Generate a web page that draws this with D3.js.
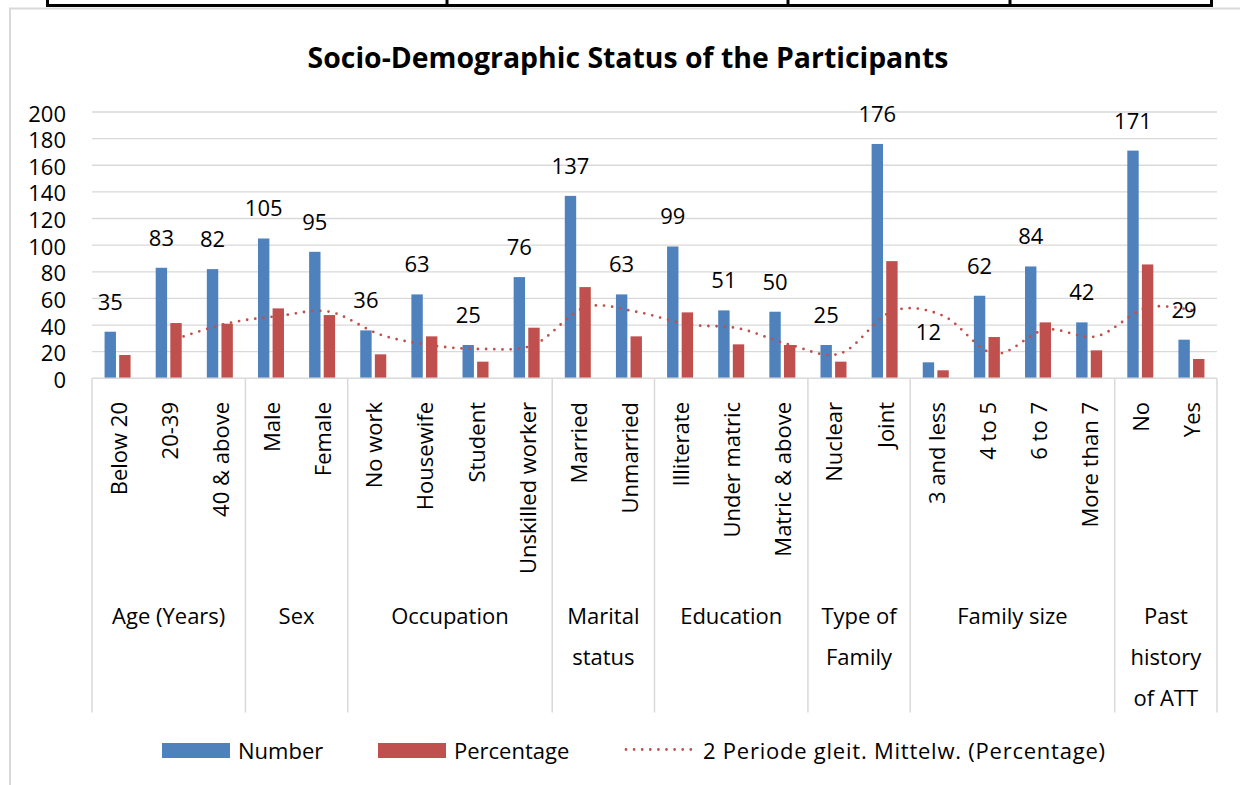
<!DOCTYPE html>
<html>
<head>
<meta charset="utf-8">
<script src="https://cdn.jsdelivr.net/npm/d3@7"></script>
<style>
  html, body { margin: 0; padding: 0; background: #fff; }
  svg { display: block; font-family: "Open Sans", "Noto Sans", sans-serif; }
</style>
</head>
<body>
<svg id="chart" width="1240" height="785"></svg>
<script>
// Categories, grouped by survey variable
const categories = [
  "Below 20", "20-39", "40 & above",
  "Male", "Female",
  "No work", "Housewife", "Student", "Unskilled worker",
  "Married", "Unmarried",
  "Illiterate", "Under matric", "Matric & above",
  "Nuclear", "Joint",
  "3 and less", "4 to 5", "6 to 7", "More than 7",
  "No", "Yes"
];
const groupNames = [
  ["Age (Years)"], ["Sex"], ["Occupation"], ["Marital", "status"],
  ["Education"], ["Type of", "Family"], ["Family size"], ["Past", "history", "of ATT"]
];
const groupSizes = [3, 2, 4, 2, 3, 2, 4, 2];

// Series values
const numberValues = [35, 83, 82, 105, 95, 36, 63, 25, 76, 137, 63, 99, 51, 50, 25, 176, 12, 62, 84, 42, 171, 29];
const percentValues = [17.5, 41.5, 41, 52.5, 47.5, 18, 31.5, 12.5, 38, 68.5, 31.5, 49.5, 25.5, 25, 12.5, 88, 6, 31, 42, 21, 85.5, 14.5];
const yTicks = [0, 20, 40, 60, 80, 100, 120, 140, 160, 180, 200];
const seriesNames = ["Number", "Percentage"];
const trendName = "2 Periode gleit. Mittelw. (Percentage)";

const BLUE = "#4F81BD", RED = "#C0504D", GRID = "#D9D9D9";

const svg = d3.select("#chart");

// Page table edge above the chart
const tableCols = [47.5, 447, 788, 1010, 1211.5];
svg.append("line").attr("x1", 46).attr("x2", 1213).attr("y1", 5.5).attr("y2", 5.5)
  .attr("stroke", "#000").attr("stroke-width", 3);
tableCols.forEach(x => svg.append("line").attr("x1", x).attr("x2", x).attr("y1", 0).attr("y2", 7)
  .attr("stroke", "#000").attr("stroke-width", 3));

// Chart area border
svg.append("path").attr("d", "M10,785 V8.5 H1240")
  .attr("fill", "none").attr("stroke", GRID).attr("stroke-width", 2);

// Title
svg.append("text").attr("x", 628).attr("y", 57).attr("text-anchor", "middle")
  .attr("dominant-baseline", "central").attr("font-weight", "bold").attr("font-size", 28.4)
  .attr("fill", "#000").text("Socio-Demographic Status of the Participants");

// Scales
const x0 = d3.scaleBand().domain(categories).range([92, 1217]).paddingInner(0).paddingOuter(0);
const x1 = d3.scaleBand().domain(seriesNames).range([-13, 13]).paddingInner(0.22);
const y = d3.scaleLinear().domain([0, 200]).range([378.3, 112]);

// Gridlines
svg.append("g").selectAll("line").data(yTicks.filter(d => d > 0)).join("line")
  .attr("x1", 92).attr("x2", 1217).attr("y1", d => y(d)).attr("y2", d => y(d))
  .attr("stroke", GRID).attr("stroke-width", 1.3);

// Y axis labels
const yAxis = d3.axisLeft(y).tickValues(yTicks).tickSize(0).tickPadding(0);
const gy = svg.append("g").attr("transform", "translate(66,0)").call(yAxis);
gy.select(".domain").remove();
gy.selectAll("text").attr("font-size", 22).attr("font-family", "Open Sans, sans-serif")
  .attr("fill", "#000").attr("dy", null).attr("dominant-baseline", "central");

// Bars
const cx = c => x0(c) + x0.bandwidth() / 2;
const bars = svg.append("g");
bars.selectAll("rect.num").data(categories).join("rect")
  .attr("x", (c) => cx(c) + x1("Number"))
  .attr("width", x1.bandwidth())
  .attr("y", (c, i) => y(numberValues[i]))
  .attr("height", (c, i) => y(0) - y(numberValues[i]))
  .attr("fill", BLUE);
bars.selectAll("rect.pct").data(categories).join("rect")
  .attr("x", (c) => cx(c) + x1("Percentage"))
  .attr("width", x1.bandwidth())
  .attr("y", (c, i) => y(percentValues[i]))
  .attr("height", (c, i) => y(0) - y(percentValues[i]))
  .attr("fill", RED);

// Category axis box: baseline, group dividers
const axisG = svg.append("g");
axisG.append("line").attr("x1", 92).attr("x2", 1217).attr("y1", y(0)).attr("y2", y(0))
  .attr("stroke", GRID).attr("stroke-width", 1.5);
let start = 0;
const bounds = [0];
groupSizes.forEach(n => { start += n; bounds.push(start); });
bounds.forEach(b => {
  const xb = b < categories.length ? x0(categories[b]) : x0.range()[1];
  axisG.append("line").attr("x1", xb).attr("x2", xb).attr("y1", y(0)).attr("y2", 712.5)
    .attr("stroke", GRID).attr("stroke-width", 1.5);
});

// Rotated category labels
svg.append("g").selectAll("text").data(categories).join("text")
  .attr("transform", c => `translate(${cx(c)},402) rotate(-90)`)
  .attr("text-anchor", "end").attr("dominant-baseline", "central")
  .attr("font-size", 22).attr("fill", "#000").text(c => c);

// Group labels
groupNames.forEach((lines, gi) => {
  const a = x0(categories[bounds[gi]]);
  const b = bounds[gi + 1] < categories.length ? x0(categories[bounds[gi + 1]]) : x0.range()[1];
  lines.forEach((ln, li) => {
    svg.append("text").attr("x", (a + b) / 2).attr("y", 615 + li * 41)
      .attr("text-anchor", "middle").attr("dominant-baseline", "central")
      .attr("font-size", 22).attr("fill", "#000").text(ln);
  });
});

// 2-period moving average of Percentage, placed on the percentage bars
const maPoints = [];
for (let i = 1; i < categories.length; i++) {
  maPoints.push([cx(categories[i]) + x1("Percentage") + x1.bandwidth() / 2,
                 y((percentValues[i] + percentValues[i - 1]) / 2)]);
}
svg.append("path").attr("d", d3.line().curve(d3.curveCardinal.tension(0))(maPoints))
  .attr("fill", "none").attr("stroke", RED).attr("stroke-width", 2.8)
  .attr("stroke-linecap", "round").attr("stroke-dasharray", "0,8.2");

// Value labels over Number bars
svg.append("g").selectAll("text").data(categories).join("text")
  .attr("x", c => cx(c) + x1("Number") + x1.bandwidth() / 2)
  .attr("y", (c, i) => y(numberValues[i]) - 22)
  .attr("text-anchor", "middle").attr("font-size", 22).attr("fill", "#000")
  .text((c, i) => numberValues[i]);

// Legend
const lg = svg.append("g");
lg.append("rect").attr("x", 162).attr("y", 743).attr("width", 68).attr("height", 15).attr("fill", BLUE);
lg.append("text").attr("x", 238).attr("y", 750).attr("dominant-baseline", "central")
  .attr("font-size", 22).text(seriesNames[0]);
lg.append("rect").attr("x", 378).attr("y", 743).attr("width", 68).attr("height", 15).attr("fill", RED);
lg.append("text").attr("x", 454).attr("y", 750).attr("dominant-baseline", "central")
  .attr("font-size", 22).text(seriesNames[1]);
lg.append("line").attr("x1", 626).attr("x2", 692).attr("y1", 749.5).attr("y2", 749.5)
  .attr("stroke", RED).attr("stroke-width", 2.8).attr("stroke-linecap", "round")
  .attr("stroke-dasharray", "0,8.1");
lg.append("text").attr("x", 703).attr("y", 750).attr("dominant-baseline", "central")
  .attr("font-size", 22).attr("textLength", 402).attr("lengthAdjust", "spacing").text(trendName);
</script>
</body>
</html>
